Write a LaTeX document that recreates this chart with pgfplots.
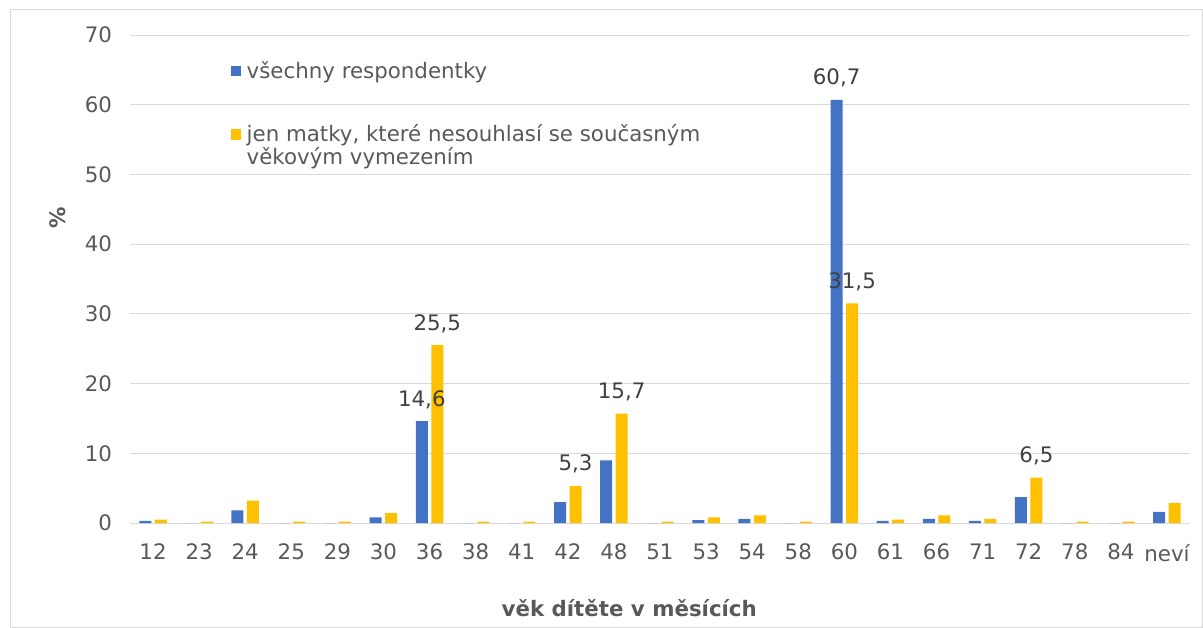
\documentclass[border=0pt]{standalone}
\usepackage{pgfplots}
\pgfplotsset{compat=1.18}
\usepackage{fontspec}
\setmainfont{DejaVu Sans}
\definecolor{cblue}{HTML}{4472C4}
\definecolor{cyel}{HTML}{FFC000}
\definecolor{ctxt}{HTML}{595959}
\definecolor{clab}{HTML}{404040}
\definecolor{cgrid}{HTML}{D9D9D9}
\begin{document}
\begin{tikzpicture}
\path[use as bounding box] (0,0) rectangle (902.25pt,471pt);
\draw[cgrid, line width=0.75pt] (7.5pt,0.4pt) rectangle (901.8pt,463.5pt);
\begin{axis}[
  at={(97.5pt,78.75pt)}, anchor=south west, scale only axis,
  width=795pt, height=366pt,
  xmin=-0.5, xmax=22.5, ymin=0, ymax=70,
  ytick={0,10,...,70},
  xtick={0,...,22},
  xticklabels={12,23,24,25,29,30,36,38,41,42,48,51,53,54,58,60,61,66,71,72,78,84,neví},
  ybar=2.6pt, bar width=9pt,
  axis line style={draw=none},
  tick style={draw=none},
  ymajorgrids, grid style={cgrid, line width=0.75pt},
  ticklabel style={font=\fontsize{16}{19}\selectfont, text=ctxt},
  /pgf/number format/assume math mode=true,
  xticklabel style={yshift=-8pt},
  yticklabel style={xshift=-10pt},
  xlabel={\textbf{věk dítěte v měsících}},
  ylabel={\textbf{\%}},
  label style={font=\fontsize{16}{19}\selectfont, text=ctxt},
  xlabel style={at={(axis description cs:0.471,-0.174)}, anchor=center},
  ylabel style={at={(axis description cs:-0.068,0.625)}, anchor=center},
  legend style={draw=none, fill=none, at={(axis description cs:0.091,0.957)}, anchor=north west,
    font=\fontsize{16}{19}\selectfont, text=ctxt, row sep=29pt,
    cells={anchor=west}},
  legend image code/.code={\fill[#1] (0pt,-4pt) rectangle (8pt,4pt); \path (0pt,0pt) -- (10pt,0pt);},
  point meta=explicit symbolic,
  nodes near coords,
  nodes near coords style={font=\fontsize{16}{19}\selectfont, text=clab, anchor=south, yshift=6pt},
]
\addplot[draw=none, fill=cblue] coordinates {
(0,0.3)[] (1,0)[] (2,1.8)[] (3,0)[] (4,0)[] (5,0.8)[] (6,14.6)[14,6] (7,0)[] (8,0)[] (9,3.0)[] (10,9.0)[]
(11,0)[] (12,0.4)[] (13,0.6)[] (14,0)[] (15,60.7)[60,7] (16,0.3)[] (17,0.6)[] (18,0.3)[] (19,3.7)[] (20,0)[] (21,0)[] (22,1.6)[]
};
\addlegendentry{všechny respondentky}
\addplot[draw=none, fill=cyel] coordinates {
(0,0.5)[] (1,0.2)[] (2,3.2)[] (3,0.2)[] (4,0.2)[] (5,1.4)[] (6,25.5)[25,5] (7,0.2)[] (8,0.2)[] (9,5.3)[5,3] (10,15.7)[15,7]
(11,0.2)[] (12,0.8)[] (13,1.1)[] (14,0.2)[] (15,31.5)[31,5] (16,0.5)[] (17,1.1)[] (18,0.6)[] (19,6.5)[6,5] (20,0.2)[] (21,0.2)[] (22,2.9)[]
};
\addlegendentry{\rlap{\raisebox{-17pt}[0pt][0pt]{věkovým vymezením}}jen matky, které nesouhlasí se současným}
\end{axis}
\end{tikzpicture}
\end{document}
